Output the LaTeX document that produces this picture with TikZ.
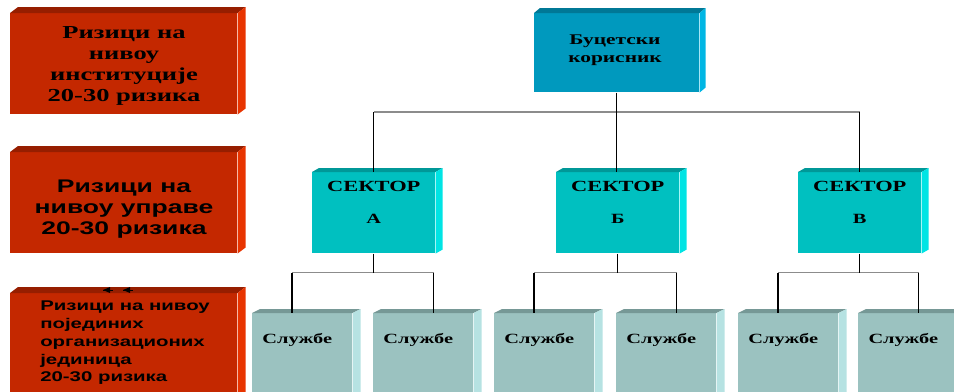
\documentclass[tikz,border=0pt]{standalone}
\usepackage{fontspec}
\usepackage{tikz}
\usetikzlibrary{arrows.meta}
\tikzset{>=latex}
\usetikzlibrary{calc}
\newfontfamily\wideserif{Liberation Serif}[FakeStretch=1.45]
\newfontfamily\widesans{Liberation Sans}[FakeStretch=1.45]
\definecolor{redfront}{RGB}{196,40,0}
\definecolor{redtop}{RGB}{150,30,0}
\definecolor{redside}{RGB}{232,52,0}
\definecolor{bluefront}{RGB}{0,153,190}
\definecolor{bluetop}{RGB}{0,120,150}
\definecolor{blueside}{RGB}{0,182,228}
\definecolor{secfront}{RGB}{0,192,192}
\definecolor{sectop}{RGB}{0,152,152}
\definecolor{secside}{RGB}{0,228,228}
\definecolor{slfront}{RGB}{155,194,192}
\definecolor{sltop}{RGB}{118,152,150}
\definecolor{slside}{RGB}{182,226,226}
\tikzset{
  box/.style 2 args={inner sep=0pt, anchor=north west, minimum width=#1*0.025cm, minimum height=#2*0.025cm},
  vline/.style={line width=1pt, black},
  hline/.style={line width=1.2pt, black!45},
  lbl/.style={inner sep=0pt, align=center}
}
% top and right faces of a box node
\newcommand\cubefaces[5]{%
  \fill[#2] (#1.north west) -- ++(#4,-#5) -- ($(#1.north east)+(#4,-#5)$) -- (#1.north east) -- cycle;
  \fill[#3] (#1.north east) -- ++(#4,-#5) -- ($(#1.south east)+(#4,-#5)$) -- (#1.south east) -- cycle;
}
\begin{document}
\begin{tikzpicture}[x=0.025cm, y=-0.025cm]
    \clip (0,0) rectangle (954,391);
    \fill[white] (0,0) rectangle (954,391);

    \node[box={227}{101}, fill=redfront] (riskInst) at (10,13) {};
    \cubefaces{riskInst}{redtop}{redside}{8}{6}
    \node[box={227}{101}, fill=redfront] (riskUpr) at (10,152) {};
    \cubefaces{riskUpr}{redtop}{redside}{8}{6}
    \node[box={227}{110}, fill=redfront] (riskOrg) at (10,293) {};
    \cubefaces{riskOrg}{redtop}{redside}{8}{6}

    \node[lbl, font={\wideserif\bfseries\fontsize{13}{15}\selectfont}] (tInst) at (124,66) {Ризици на\\нивоу\\институције\\20-30 ризика};
    \node[lbl, font={\widesans\bfseries\fontsize{13}{15}\selectfont}] (tUpr) at (124,209) {Ризици на\\нивоу управе\\20-30 ризика};
    \node[lbl, align=left, anchor=north west, font={\widesans\bfseries\fontsize{10}{12.6}\selectfont}] (tOrg) at (40,301) {Ризици на нивоу\\појединих\\организационих\\јединица\\20-30 ризика};

    % two small marks on the top edge
    \coordinate (mk1) at (103,290);
    \coordinate (mk2) at (123,290);
    \foreach \m in {mk1,mk2}{
      \fill (\m) -- ++(7,-3) -- ++(0,6) -- cycle;
      \draw[line width=0.6pt] (\m) -- ++(10,0);
    }

    \node[box={165}{79}, fill=bluefront] (korisnik) at (534,13) {};
    \cubefaces{korisnik}{bluetop}{blueside}{6}{5}
    \node[lbl, font={\wideserif\bfseries\fontsize{10.5}{12.5}\selectfont}] (tKor) at (615,50) {Буцетски\\корисник};

    \node[box={123}{81}, fill=secfront] (secA) at (312,172) {};
    \node[box={123}{81}, fill=secfront] (secB) at (556,172) {};
    \node[box={123}{81}, fill=secfront] (secV) at (798,172) {};
    \foreach \s/\l in {A/А, B/Б, V/В}{
      \cubefaces{sec\s}{sectop}{secside}{7}{4}
      \node[lbl, font={\wideserif\bfseries\fontsize{11}{13}\selectfont}] (tsec\s) at ($(sec\s.north)+(0,14)$) {СЕКТОР};
      \node[lbl, font={\wideserif\bfseries\fontsize{10}{12}\selectfont}] (tlet\s) at ($(sec\s.north)+(0,47)$) {\l};
    }

    \foreach \i/\x in {1/252, 2/373, 3/494, 4/616, 5/738, 6/858}{
      \node[box={100}{90}, fill=slfront] (sl\i) at (\x,313) {};
      \cubefaces{sl\i}{sltop}{slside}{8}{4}
      \node[lbl, font={\wideserif\bfseries\fontsize{10}{12}\selectfont}] (tsl\i) at ($(sl\i.north)+(-5,27)$) {Службе};
    }

    \coordinate (busTop) at (0,112);
    \draw[hline] (secA.north |- busTop) -- (secV.north |- busTop);
    \draw[vline] (korisnik.south) -- (korisnik.south |- secB.north);
    \draw[vline] (secA.north |- busTop) -- (secA.north);
    \draw[vline] (secV.north |- busTop) -- (secV.north);

    \foreach \s/\a/\b in {secA/sl1/sl2, secB/sl3/sl4, secV/sl5/sl6}{
      \coordinate (jn) at ($(\s.south)+(0,19)$);
      \coordinate (la) at ($(\a.north west)+(40,0)$);
      \coordinate (lb) at ($(\b.north east)+(-40,0)$);
      \draw[hline] (la |- jn) -- (lb |- jn);
      \draw[vline] (\s.south) -- (jn);
      \draw[vline] (la |- jn) -- (la);
      \draw[vline] (lb |- jn) -- (lb);
    }
  \end{tikzpicture}
\end{document}
